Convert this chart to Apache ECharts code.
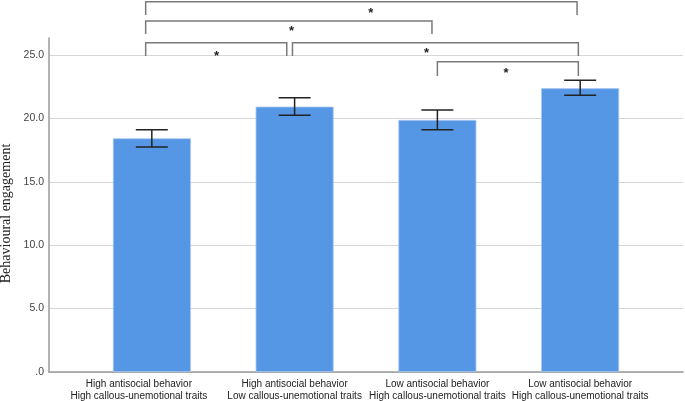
<!DOCTYPE html>
<html><head><meta charset="utf-8">
<script src="https://cdn.jsdelivr.net/npm/echarts@6/dist/echarts.min.js"></script>
<style>html,body{margin:0;padding:0;background:#fff}#c{width:685px;height:401px}</style>
</head><body><div id="c"></div>
<script>
const categories = [
  'High antisocial behavior\nHigh callous-unemotional traits',
  'High antisocial behavior\nLow callous-unemotional traits',
  'Low antisocial behavior\nHigh callous-unemotional traits',
  'Low antisocial behavior\nHigh callous-unemotional traits'
];
const means = [18.43, 20.93, 19.88, 22.38];
const errLow = [17.74, 20.24, 19.11, 21.82];
const errHigh = [19.11, 21.63, 20.66, 23.00];
const yTickValues = [0, 5, 10, 15, 20, 25];
// significance brackets: [xStart, xEnd, yTop, yDrop] in category units / value units
const brackets = [
  [-0.043, 2.978, 29.2, 28.15],
  [-0.043, 1.962, 27.68, 26.66],
  [-0.043, 0.945, 25.97, 24.92],
  [0.985, 2.987, 25.97, 24.92],
  [2.0, 2.987, 24.47, 23.34]
];
const stars = [
  [1.533, 28.55],
  [0.978, 27.13],
  [0.454, 25.16],
  [1.924, 25.39],
  [2.48, 23.82]
];

const chart = echarts.init(document.getElementById('c'), null, {renderer: 'canvas'});
const fmtY = v => (v === 0 ? '.0' : v.toFixed(1));
const labelFont = 'Liberation Sans, Arial, sans-serif';
chart.setOption({
  animation: false,
  backgroundColor: '#fff',
  grid: [
    {left: 49, right: 2, top: 55, bottom: 29, containLabel: false, outerBoundsMode: 'none'},
    {left: 49, right: 2, top: 38, bottom: 29, containLabel: false, outerBoundsMode: 'none'},
    {left: 80.5, right: 33.5, top: 55, bottom: 29, containLabel: false, outerBoundsMode: 'none'}
  ],
  xAxis: [
    {gridIndex: 0, type: 'value', min: -0.72, max: 3.72, position: 'bottom',
     axisLine: {show: true, onZero: false, lineStyle: {color: '#9a9a9a', width: 1.5}},
     axisTick: {show: false}, axisLabel: {show: false}, splitLine: {show: false}},
    {gridIndex: 1, type: 'value', show: false},
    {gridIndex: 2, type: 'category', data: categories,
     axisLine: {show: false}, axisTick: {show: false},
     axisLabel: {margin: 6, fontSize: 10, lineHeight: 12, color: '#222', fontFamily: labelFont, interval: 0,
       formatter: (v, i) => i === 0 ? v.split('\n').map(s => '{s|' + s + '}').join('\n') : v,
       rich: {s: {fontSize: 10, lineHeight: 12, color: '#222', fontFamily: labelFont, padding: [0, 26, 0, 0]}}}}
  ],
  yAxis: [
    {gridIndex: 0, type: 'value', min: 0, max: 25, interval: 5, position: 'left',
     name: 'Behavioural engagement', nameLocation: 'middle', nameGap: 36, nameMoveOverlap: false,
     nameTextStyle: {fontFamily: 'Liberation Serif, Times New Roman, serif', fontSize: 14, color: '#222'},
     axisLine: {show: false, onZero: false}, axisTick: {show: false},
     axisLabel: {margin: 5, fontSize: 10.5, color: '#444', fontFamily: labelFont,
       formatter: v => (yTickValues.indexOf(v) >= 0 ? fmtY(v) : '')},
     splitLine: {show: true, lineStyle: {color: '#d6d6d6', width: 1}}},
    {gridIndex: 1, type: 'value', min: 0, max: 1, position: 'left',
     axisLine: {show: true, onZero: false, lineStyle: {color: '#9a9a9a', width: 1.5}},
     axisTick: {show: false}, axisLabel: {show: false}, splitLine: {show: false}},
    {gridIndex: 2, type: 'value', min: 0, max: 25, show: false}
  ],
  series: [
    {type: 'bar', xAxisIndex: 2, yAxisIndex: 2, data: means, barWidth: 78, z: 2,
     itemStyle: {color: '#5596e5', borderColor: '#a9c8f0', borderWidth: 0.8}},
    {type: 'custom', xAxisIndex: 0, yAxisIndex: 0, clip: false, z: 5,
     data: errLow.map((l, i) => [i, l, errHigh[i]]),
     renderItem: function (params, api) {
       const x = api.value(0);
       const lo = api.coord([x, api.value(1)]);
       const hi = api.coord([x, api.value(2)]);
       const hw = 16;
       const st = {stroke: '#222', lineWidth: 1.5};
       return {type: 'group', children: [
         {type: 'line', shape: {x1: lo[0], y1: lo[1], x2: hi[0], y2: hi[1]}, style: st},
         {type: 'line', shape: {x1: lo[0] - hw, y1: lo[1], x2: lo[0] + hw, y2: lo[1]}, style: st},
         {type: 'line', shape: {x1: hi[0] - hw, y1: hi[1], x2: hi[0] + hw, y2: hi[1]}, style: st}
       ]};
     }},
    {type: 'custom', xAxisIndex: 0, yAxisIndex: 0, clip: false, z: 5,
     data: brackets,
     renderItem: function (params, api) {
       const a = api.coord([api.value(0), api.value(2)]);
       const b = api.coord([api.value(1), api.value(2)]);
       const ad = api.coord([api.value(0), api.value(3)]);
       const bd = api.coord([api.value(1), api.value(3)]);
       return {type: 'polyline', shape: {points: [[ad[0], ad[1]], [a[0], a[1]], [b[0], b[1]], [bd[0], bd[1]]]},
         style: {stroke: '#7a7a7a', lineWidth: 1.5, fill: null}};
     }},
    {type: 'custom', xAxisIndex: 0, yAxisIndex: 0, clip: false, z: 5,
     data: stars,
     renderItem: function (params, api) {
       const p = api.coord([api.value(0), api.value(1)]);
       return {type: 'text', style: {text: '*', x: p[0], y: p[1] + 3, textAlign: 'center', textVerticalAlign: 'middle',
         font: 'bold 13px "Liberation Sans", Arial, sans-serif', fill: '#222'}};
     }}
  ]
});
</script>
</body></html>
